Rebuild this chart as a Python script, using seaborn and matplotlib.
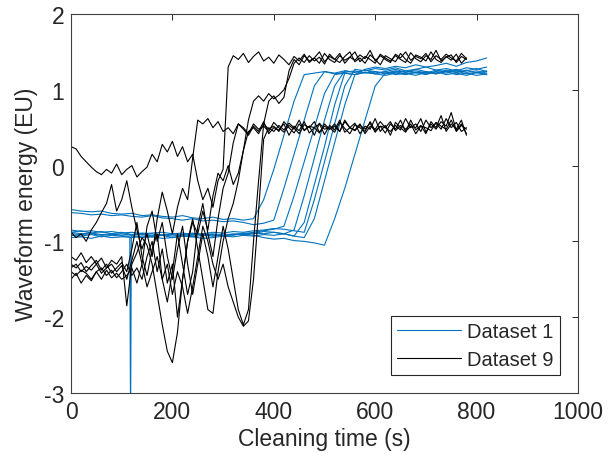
import numpy as np
import pandas as pd
import seaborn as sns
import matplotlib
matplotlib.use("Agg")
import matplotlib.pyplot as plt
from matplotlib.lines import Line2D

# --- Dataset 1 (blue), sampled every 20 s from 0 to 820 s ---
t_blue = np.arange(0, 821, 20)

d1_run1 = [-0.58, -0.60, -0.61, -0.60, -0.63, -0.64, -0.63, -0.66, -0.65, -0.67,
           -0.68, -0.66, -0.69, -0.70, -0.68, -0.71, -0.70, -0.72, -0.70, -0.45,
           -0.05, 0.40, 0.85, 1.20, 1.22, 1.24, 1.21, 1.23, 1.25, 1.22,
           1.24, 1.21, 1.23, 1.25, 1.22, 1.24, 1.21, 1.25, 1.23, 1.26,
           1.22, 1.25]
d1_run2 = [-0.62, -0.63, -0.65, -0.64, -0.66, -0.65, -0.67, -0.68, -0.66, -0.69,
           -0.70, -0.72, -0.70, -0.73, -0.72, -0.74, -0.73, -0.75, -0.78, -0.76,
           -0.72, -0.30, 0.15, 0.60, 1.05, 1.24, 1.22, 1.25, 1.23, 1.26,
           1.22, 1.24, 1.27, 1.23, 1.25, 1.22, 1.26, 1.24, 1.27, 1.23,
           1.25, 1.22]
d1_run3 = [-0.88, -0.86, -0.89, -0.87, -0.90, -0.88, -0.91, -0.89, -0.90, -0.92,
           -0.90, -0.91, -0.89, -0.92, -0.90, -0.93, -0.91, -0.90, -0.88, -0.86,
           -0.84, -0.80, -0.40, 0.05, 0.50, 0.95, 1.20, 1.22, 1.20, 1.23,
           1.21, 1.24, 1.20, 1.22, 1.19, 1.23, 1.21, 1.24, 1.20, 1.22,
           1.19, 1.21]
d1_run4 = [-0.92, -0.93, -0.91, -0.94, -0.92, -0.93, -0.95, -0.93, -0.94, -0.92,
           -0.95, -0.93, -0.94, -0.92, -0.93, -0.90, -0.92, -0.89, -0.90, -0.87,
           -0.88, -0.90, -0.85, -0.40, 0.10, 0.60, 1.05, 1.25, 1.23, 1.26,
           1.24, 1.22, 1.25, 1.23, 1.27, 1.24, 1.22, 1.26, 1.23, 1.25,
           1.28, 1.24]
d1_run5 = [-0.95, -0.94, -0.96, -0.93, -0.95, -0.94, -0.93, -0.95, -0.94, -0.96,
           -0.95, -0.93, -0.94, -0.96, -0.95, -0.93, -0.94, -0.92, -0.93, -0.91,
           -0.92, -0.90, -0.93, -0.75, -0.25, 0.25, 0.80, 1.22, 1.20, 1.23,
           1.21, 1.19, 1.22, 1.20, 1.23, 1.21, 1.24, 1.20, 1.22, 1.19,
           1.23, 1.20]
# short drop-out in run 5 near 118 s
spike_t = [116, 117.5, 119]
spike_y = [-0.94, -3.5, -0.93]
d1_run6 = [-0.85, -0.87, -0.86, -0.88, -0.87, -0.89, -0.88, -0.90, -0.89, -0.88,
           -0.90, -0.89, -0.91, -0.90, -0.88, -0.89, -0.87, -0.88, -0.86, -0.85,
           -0.83, -0.84, -0.86, -0.88, -0.45, 0.05, 0.55, 1.05, 1.27, 1.25,
           1.28, 1.26, 1.29, 1.25, 1.27, 1.30, 1.26, 1.28, 1.25, 1.29,
           1.27, 1.30]
d1_run7 = [-0.90, -0.91, -0.90, -0.92, -0.91, -0.90, -0.92, -0.91, -0.93, -0.92,
           -0.91, -0.93, -0.92, -0.90, -0.91, -0.92, -0.90, -0.91, -0.89, -0.90,
           -0.88, -0.90, -0.93, -0.95, -0.70, -0.20, 0.30, 0.80, 1.20, 1.27,
           1.30, 1.28, 1.31, 1.29, 1.33, 1.30, 1.32, 1.35, 1.31, 1.36,
           1.38, 1.42]
d1_run8 = [-0.88, -0.90, -0.89, -0.91, -0.90, -0.92, -0.91, -0.90, -0.92, -0.91,
           -0.93, -0.92, -0.90, -0.91, -0.93, -0.92, -0.91, -0.90, -0.92, -0.95,
           -0.97, -0.96, -0.99, -1.00, -1.02, -1.05, -0.70, -0.30, 0.15, 0.60,
           1.05, 1.22, 1.24, 1.21, 1.23, 1.20, 1.24, 1.22, 1.25, 1.21,
           1.23, 1.20]

# --- Dataset 9 (black), sampled every 10 s from 0 to 780 s ---
t_black = np.arange(0, 781, 10)

d9_run1 = [0.25, 0.22, 0.12, 0.05, -0.02, -0.08, -0.12, -0.05, -0.10, 0.02,
           -0.12, -0.05, 0.00, -0.15, -0.08, -0.02, 0.15, 0.05, 0.28, 0.18,
           0.32, 0.12, 0.25, 0.05, 0.15, -0.20, -0.45, -0.30, -0.55, -0.20,
           -0.05, 1.30, 1.45, 1.40, 1.48, 1.36, 1.44, 1.50, 1.38, 1.43,
           1.35, 1.46, 1.40, 1.33, 1.44, 1.38, 1.47, 1.36, 1.42, 1.50,
           1.37, 1.44, 1.40, 1.48, 1.35, 1.43, 1.39, 1.46, 1.41, 1.52,
           1.38, 1.45, 1.40, 1.36, 1.47, 1.42, 1.50, 1.39, 1.44, 1.41,
           1.48, 1.37, 1.45, 1.40, 1.47, 1.42, 1.38, 1.48, 1.41]
d9_run2 = [-0.88, -0.95, -0.90, -1.00, -0.85, -0.75, -0.62, -0.50, -0.25, -0.60,
           -0.45, -0.20, -0.55, -0.85, -1.10, -0.90, -1.20, -0.70, -0.35, -0.60,
           -0.90, -0.55, -0.30, -0.45, 0.10, 0.60, 0.55, 0.62, 0.50, 0.58,
           0.45, 0.50, 0.42, 0.55, 0.48, 0.40, 0.52, 0.45, 0.58, 0.42,
           0.50, 0.47, 0.55, 0.40, 0.52, 0.46, 0.58, 0.43, 0.50, 0.55,
           0.41, 0.53, 0.47, 0.60, 0.44, 0.50, 0.56, 0.42, 0.52, 0.48,
           0.62, 0.45, 0.53, 0.40, 0.57, 0.50, 0.44, 0.60, 0.47, 0.53,
           0.42, 0.58, 0.50, 0.66, 0.45, 0.55, 0.48, 0.60, 0.40]
d9_run3 = [-1.20, -1.25, -1.15, -1.28, -1.20, -1.30, -1.22, -1.35, -1.25, -1.30,
           -1.20, -1.85, -1.30, -1.15, -0.95, -1.05, -1.30, -1.70, -2.10, -2.45,
           -2.60, -2.20, -1.50, -1.00, -0.75, -0.90, -0.60, -0.85, -0.40, -0.10,
           -0.20, 0.00, -0.25, -0.10, 0.20, 0.60, 0.85, 0.92, 0.85, 0.95,
           0.88, 0.93, 1.00, 1.15, 1.35, 1.42, 1.36, 1.45, 1.38, 1.43,
           1.34, 1.47, 1.40, 1.36, 1.44, 1.50, 1.37, 1.42, 1.35, 1.46,
           1.40, 1.33, 1.45, 1.41, 1.37, 1.48, 1.40, 1.35, 1.46, 1.43,
           1.38, 1.50, 1.40, 1.36, 1.44, 1.39, 1.47, 1.35, 1.42]
d9_run4 = [-1.40, -1.45, -1.38, -1.42, -1.50, -1.40, -1.35, -1.45, -1.38, -1.48,
           -1.40, -1.30, -1.45, -1.35, -1.50, -1.20, -1.00, -1.40, -1.10, -1.55,
           -1.30, -2.00, -1.50, -1.00, -0.70, -1.10, -1.50, -1.90, -1.95, -1.40,
           -1.00, -0.70, -0.50, -0.20, 0.20, 0.45, 0.50, 0.42, 0.55, 0.48,
           0.52, 0.45, 0.58, 0.50, 0.43, 0.55, 0.47, 0.52, 0.40, 0.56,
           0.48, 0.50, 0.44, 0.57, 0.49, 0.42, 0.54, 0.50, 0.45, 0.58,
           0.46, 0.52, 0.43, 0.55, 0.48, 0.60, 0.45, 0.52, 0.50, 0.62,
           0.44, 0.55, 0.48, 0.58, 0.52, 0.70, 0.46, 0.55, 0.42]
d9_run5 = [-1.50, -1.42, -1.55, -1.45, -1.52, -1.40, -1.50, -1.38, -1.48, -1.42,
           -1.50, -1.45, -1.35, -1.55, -1.30, -1.60, -1.40, -1.20, -1.50, -1.30,
           -1.70, -1.40, -1.60, -1.95, -1.60, -1.20, -0.80, -1.00, -1.30, -1.50,
           -1.30, -1.60, -1.80, -2.00, -2.12, -2.05, -1.50, -0.60, 0.35, 0.50,
           0.45, 0.53, 0.47, 0.56, 0.50, 0.42, 0.54, 0.50, 0.58, 0.44,
           0.52, 0.48, 0.55, 0.45, 0.60, 0.50, 0.47, 0.55, 0.42, 0.52,
           0.48, 0.58, 0.50, 0.45, 0.53, 0.47, 0.62, 0.50, 0.55, 0.45,
           0.60, 0.50, 0.56, 0.48, 0.62, 0.50, 0.57, 0.45, 0.50]
d9_run6 = [-1.35, -1.30, -1.40, -1.33, -1.38, -1.30, -1.42, -1.35, -1.30, -1.40,
           -1.32, -1.50, -1.25, -1.00, -1.30, -0.80, -0.60, -1.00, -0.75, -1.20,
           -1.50, -1.10, -0.80, -1.30, -1.70, -1.30, -0.90, -1.20, -1.60, -1.20,
           -0.80, -1.10, -1.50, -1.90, -2.10, -1.90, -1.00, -0.20, 0.55, 0.85,
           0.92, 0.82, 0.90, 1.25, 1.40, 1.33, 1.45, 1.38, 1.42, 1.35,
           1.48, 1.40, 1.36, 1.45, 1.39, 1.43, 1.50, 1.37, 1.44, 1.40,
           1.35, 1.47, 1.42, 1.38, 1.45, 1.40, 1.36, 1.49, 1.41, 1.37,
           1.45, 1.40, 1.52, 1.38, 1.43, 1.46, 1.36, 1.44, 1.40]
d9_run7 = [-1.30, -1.35, -1.28, -1.40, -1.32, -1.25, -1.38, -1.30, -1.42, -1.35,
           -1.28, -1.40, -1.10, -0.75, -1.20, -1.45, -1.10, -0.90, -1.50, -1.80,
           -1.40, -0.90, -1.30, -1.70, -1.40, -0.80, -0.50, -0.90, -1.20, -0.70,
           -0.30, -0.10, 0.30, 0.55, 0.50, 0.42, 0.55, 0.48, 0.52, 0.45,
           0.57, 0.50, 0.44, 0.53, 0.48, 0.60, 0.46, 0.52, 0.50, 0.43,
           0.55, 0.48, 0.52, 0.45, 0.58, 0.50, 0.46, 0.53, 0.48, 0.56,
           0.44, 0.52, 0.50, 0.58, 0.46, 0.53, 0.48, 0.55, 0.42, 0.52,
           0.50, 0.46, 0.57, 0.52, 0.48, 0.60, 0.45, 0.53, 0.48]

blue_runs = [d1_run1, d1_run2, d1_run3, d1_run4, d1_run5, d1_run6, d1_run7, d1_run8]
black_runs = [d9_run1, d9_run2, d9_run3, d9_run4, d9_run5, d9_run6, d9_run7]

# build long-form table
frames = []
for i, ys in enumerate(blue_runs):
    t = list(t_blue)
    y = list(ys)
    if i == 4:
        t = t + spike_t
        y = y + spike_y
    f = pd.DataFrame({"t": t, "y": y}).sort_values("t")
    f["run"] = f"d1_{i}"
    f["dataset"] = "Dataset 1"
    frames.append(f)
for i, ys in enumerate(black_runs):
    f = pd.DataFrame({"t": t_black, "y": ys})
    f["run"] = f"d9_{i}"
    f["dataset"] = "Dataset 9"
    frames.append(f)
df = pd.concat(frames, ignore_index=True)

sns.set_theme(style="white")
plt.rcParams["font.family"] = ["Liberation Sans", "DejaVu Sans"]
plt.rcParams["axes.unicode_minus"] = False
text_col = "#262626"

fig = plt.figure(figsize=(6.10, 4.64), dpi=100)
ax = fig.add_axes([0.1164, 0.1509, 0.8311, 0.8168])

colors = {"Dataset 1": "#0072BD", "Dataset 9": "#000000"}
sns.lineplot(data=df, x="t", y="y", hue="dataset", units="run", estimator=None,
             palette=colors, linewidth=0.8, sort=False, legend=False, ax=ax)

ax.set_xlim(0, 1000)
ax.set_ylim(-3, 2)
ax.set_xticks([0, 200, 400, 600, 800, 1000])
ax.set_yticks([-3, -2, -1, 0, 1, 2])
ax.set_xlabel("Cleaning time (s)", fontsize=16.5, color=text_col, labelpad=3)
ax.set_ylabel("Waveform energy (EU)", fontsize=16.5, color=text_col, labelpad=4)
ax.tick_params(direction="in", length=4, width=0.7, colors=text_col, pad=5,
               labelsize=16.5, top=True, right=True, labeltop=False, labelright=False)
for s in ax.spines.values():
    s.set_color("#404040")
    s.set_linewidth(0.8)

handles = [Line2D([], [], color=colors["Dataset 1"], lw=0.8),
           Line2D([], [], color=colors["Dataset 9"], lw=0.8)]
leg = ax.legend(handles, ["Dataset 1", "Dataset 9"], loc="lower right",
                bbox_to_anchor=(0.9645, 0.0475), borderaxespad=0,
                fontsize=14.5, handlelength=3.2, fancybox=False, framealpha=1,
                edgecolor="#262626", labelspacing=0.45, borderpad=0.3,
                handletextpad=0.3)
leg.get_frame().set_linewidth(0.8)

fig.savefig("out.png", dpi=100)
